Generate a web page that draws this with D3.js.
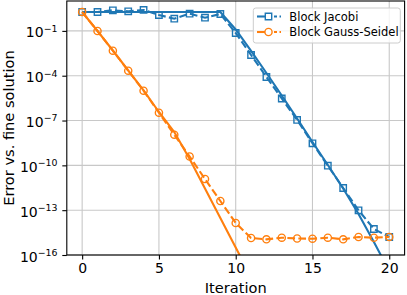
<!DOCTYPE html>
<html>
<head>
<meta charset="utf-8">
<script src="https://cdn.jsdelivr.net/npm/d3@7"></script>
<style>
  body { margin: 0; background: #fff; }
  text { font-family: "DejaVu Sans", sans-serif; fill: #000; }
</style>
</head>
<body>
<svg width="407" height="295"></svg>
<script>
// iterations 0..20
var iterations = d3.range(0, 21);

// Block Jacobi: measured error (dashed, squares) and solid estimate
var jacobiError = [1.84, 1.84, 2.39, 2.05, 2.51, 1.16, 0.655, 1.42, 0.766, 1.35,
  7.23e-2, 2.44e-3, 8.20e-5, 2.99e-6, 1.09e-7, 3.00e-9, 9.48e-11, 3.05e-12, 9.82e-14, 5.50e-15, 1.60e-15];
var jacobiBound = [1.84, 1.84, 1.84, 1.84, 1.84, 1.84, 1.84, 1.84, 1.84, 1.84,
  0.124, 4.52e-3, 1.52e-4, 4.74e-6, 1.37e-7, 3.66e-9, 1.06e-10, 2.82e-12, 5.55e-14, 7.41e-16, 8.5e-18];

// Block Gauss-Seidel
var gaussError = [1.84, 9.84e-2, 4.73e-3, 2.17e-4, 9.93e-6, 3.35e-7, 1.13e-8, 3.92e-10, 1.22e-11, 4.11e-13,
  1.39e-14, 1.37e-15, 1.12e-15, 1.44e-15, 1.27e-15, 1.23e-15, 1.44e-15, 1.12e-15, 1.60e-15, 1.44e-15, 1.60e-15];
var gaussBound = [1.84, 9.84e-2, 4.88e-3, 2.23e-4, 1.03e-5, 3.73e-7, 1.71e-8, 2.67e-10, 2.82e-12, 3.00e-14,
  3.18e-16, 3.4e-18];

var xTicks = [0, 5, 10, 15, 20];
var yTickExps = [-16, -13, -10, -7, -4, -1];
var seriesNames = ["Block Jacobi", "Block Gauss-Seidel"];
var colors = ["#1f77b4", "#ff7f0e"];

var svg = d3.select("svg");
var plotL = 66.8, plotR = 404.6, plotT = 1, plotB = 255;

var x = d3.scaleLinear().domain([-1, 21]).range([plotL, plotR]);
var y = d3.scaleLog().domain([1e-16, 10]).range([plotB, plotT]);

svg.append("defs").append("clipPath").attr("id", "plotClip")
  .append("rect")
  .attr("x", plotL).attr("y", plotT)
  .attr("width", plotR - plotL).attr("height", plotB - plotT);

// grid
var grid = svg.append("g");
grid.selectAll("line.gx").data(xTicks).enter().append("line")
  .attr("x1", d => x(d)).attr("x2", d => x(d))
  .attr("y1", plotT).attr("y2", plotB)
  .attr("stroke", "#c8c8c8").attr("stroke-width", 1.1);
grid.selectAll("line.gy").data(yTickExps).enter().append("line")
  .attr("x1", plotL).attr("x2", plotR)
  .attr("y1", d => y(Math.pow(10, d))).attr("y2", d => y(Math.pow(10, d)))
  .attr("stroke", "#c8c8c8").attr("stroke-width", 1.1);

// axes via d3
var xAxis = d3.axisBottom(x).tickValues(xTicks).tickSize(4.5).tickPadding(4).tickFormat(d3.format("d"));
var gx = svg.append("g").attr("transform", "translate(0," + plotB + ")").call(xAxis);
gx.select(".domain").remove();
gx.selectAll("text").attr("font-size", 14).attr("font-family", "DejaVu Sans");
gx.selectAll("line").attr("stroke", "#000").attr("stroke-width", 1.1);

var yAxis = d3.axisLeft(y).tickValues(yTickExps.map(e => Math.pow(10, e))).tickSize(4.5).tickFormat("");
var gy = svg.append("g").attr("transform", "translate(" + plotL + ",0)").call(yAxis);
gy.select(".domain").remove();
gy.selectAll("line").attr("stroke", "#000").attr("stroke-width", 1.1);

// y tick labels with superscripts
var ylab = svg.append("g").selectAll("text").data(yTickExps).enter().append("text")
  .attr("x", 57.5)
  .attr("y", d => y(Math.pow(10, d)) + 6.5)
  .attr("text-anchor", "end")
  .attr("font-size", 14);
ylab.append("tspan").text("10");
ylab.append("tspan").attr("dy", -5.6).attr("font-size", 9.4)
  .text(d => "\u2212" + Math.abs(d));

// lines
var line = d3.line().x((d, i) => x(i)).y(d => y(d));
var plot = svg.append("g").attr("clip-path", "url(#plotClip)");

function drawSeries(bound, err, color, marker) {
  plot.append("path").datum(bound)
    .attr("d", line).attr("fill", "none")
    .attr("stroke", color).attr("stroke-width", 2.1);
  plot.append("path").datum(err)
    .attr("d", line).attr("fill", "none")
    .attr("stroke", color).attr("stroke-width", 2.1)
    .attr("stroke-dasharray", "7.7,3.3");
  var m = plot.append("g").selectAll("path").data(err).enter().append("path")
    .attr("transform", (d, i) => "translate(" + x(i) + "," + y(d) + ")")
    .attr("fill", "none").attr("stroke", color).attr("stroke-width", 1.4);
  if (marker === "square") m.attr("d", "M-3.2,-3.2H3.2V3.2H-3.2Z");
  else m.attr("d", d3.symbol(d3.symbolCircle, Math.PI * 3.6 * 3.6));
}
drawSeries(jacobiBound, jacobiError, colors[0], "square");
drawSeries(gaussBound, gaussError, colors[1], "circle");

// frame
svg.append("rect")
  .attr("x", plotL).attr("y", plotT)
  .attr("width", plotR - plotL).attr("height", plotB - plotT)
  .attr("fill", "none").attr("stroke", "#000").attr("stroke-width", 1.1);

// axis labels
svg.append("text")
  .attr("x", (plotL + plotR) / 2).attr("y", 293)
  .attr("text-anchor", "middle").attr("font-size", 14.6)
  .text("Iteration");
svg.append("text")
  .attr("transform", "translate(13.8," + ((plotT + plotB) / 2) + ") rotate(-90)")
  .attr("text-anchor", "middle").attr("font-size", 14.6)
  .text("Error vs. fine solution");

// legend
var lg = svg.append("g");
lg.append("rect")
  .attr("x", 253.3).attr("y", 8).attr("width", 147).attr("height", 35)
  .attr("rx", 2.5)
  .attr("fill", "#fff").attr("fill-opacity", 0.8)
  .attr("stroke", "#cccccc").attr("stroke-width", 1);
seriesNames.forEach(function(name, i) {
  var cy = 16.5 + i * 15.5;
  var c = colors[i];
  lg.append("line").attr("x1", 257).attr("x2", 268.5).attr("y1", cy).attr("y2", cy)
    .attr("stroke", c).attr("stroke-width", 2.1);
  lg.append("line").attr("x1", 268.5).attr("x2", 281).attr("y1", cy).attr("y2", cy)
    .attr("stroke", c).attr("stroke-width", 2.1).attr("stroke-dasharray", "3,2.5");
  var mk = lg.append("path").attr("transform", "translate(268.5," + cy + ")")
    .attr("fill", "#fff").attr("stroke", c).attr("stroke-width", 1.4);
  if (i === 0) mk.attr("d", "M-3.2,-3.2H3.2V3.2H-3.2Z");
  else mk.attr("d", d3.symbol(d3.symbolCircle, Math.PI * 3.6 * 3.6));
  lg.append("text").attr("x", 289.3).attr("y", cy + 4.2)
    .attr("font-size", 11.5).text(name);
});
</script>
</body>
</html>
